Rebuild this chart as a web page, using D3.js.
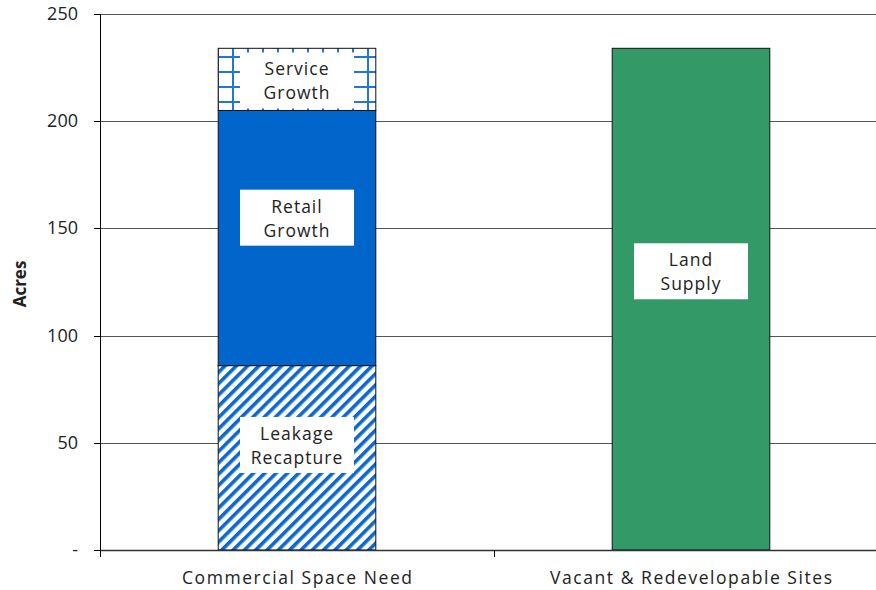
<!DOCTYPE html>
<html>
<head>
<meta charset="utf-8">
<script src="https://cdn.jsdelivr.net/npm/d3@7"></script>
<style>
  html, body { margin: 0; padding: 0; background: #fff; }
  svg { display: block; }
  text { font-family: "Century Gothic", "Open Sans", Lato, sans-serif; fill: #222; }
</style>
</head>
<body>
<svg id="chart" width="876" height="590"></svg>
<script>
// Acres of commercial land: projected need vs. available supply
const categories = ["Commercial Space Need", "Vacant & Redevelopable Sites"];
const segmentNames = ["Leakage Recapture", "Retail Growth", "Service Growth", "Land Supply"];
const segmentCategory = [0, 0, 0, 1];
const segmentValues = [86, 119, 29, 234];
const segmentLabels = [["Leakage", "Recapture"], ["Retail", "Growth"], ["Service", "Growth"], ["Land", "Supply"]];
// value (acres) at which each label box is centred
const labelAt = [49, 155, 219, 130];
const yTicks = [0, 50, 100, 150, 200, 250];
const yTickLabels = ["-", "50", "100", "150", "200", "250"];

const svg = d3.select("#chart");
const plot = { left: 100, right: 888, top: 14, bottom: 550 };

const x = d3.scaleBand().domain(categories).range([plot.left, plot.right])
  .paddingInner(0.6).paddingOuter(0.3);
const y = d3.scaleLinear().domain([0, 250]).range([plot.bottom, plot.top]);

// Fill patterns
const defs = svg.append("defs");
const stripes = defs.append("pattern").attr("id", "stripes")
  .attr("patternUnits", "userSpaceOnUse").attr("width", 8).attr("height", 8)
  .attr("patternTransform", "rotate(45)");
stripes.append("rect").attr("width", 8).attr("height", 8).attr("fill", "#fff");
stripes.append("rect").attr("width", 3.6).attr("height", 8).attr("fill", "#0a68cf");

const grid = defs.append("pattern").attr("id", "grid")
  .attr("patternUnits", "userSpaceOnUse").attr("width", 15).attr("height", 15)
  .attr("x", 1).attr("y", 5);
grid.append("rect").attr("width", 15).attr("height", 15).attr("fill", "#fff");
grid.append("rect").attr("x", 6).attr("width", 2).attr("height", 15).attr("fill", "#1f78d6");
grid.append("rect").attr("y", 6).attr("width", 15).attr("height", 2).attr("fill", "#1f78d6");

const fills = ["url(#stripes)", "#0066cc", "url(#grid)", "#339966"];

// Horizontal gridlines
svg.append("g").selectAll("line").data(yTicks.slice(1)).join("line")
  .attr("x1", plot.left).attr("x2", 876)
  .attr("y1", d => Math.round(y(d)) + 0.5).attr("y2", d => Math.round(y(d)) + 0.5)
  .attr("stroke", "#555").attr("stroke-width", 1);

// Stacked segments
const segs = segmentValues.map((v, i) => {
  const c = segmentCategory[i];
  const base = d3.sum(segmentValues.slice(0, i).filter((_, j) => segmentCategory[j] === c));
  return { i, c, y0: base, y1: base + v };
});

svg.append("g").selectAll("rect").data(segs).join("rect")
  .attr("x", d => x(categories[d.c]))
  .attr("width", x.bandwidth())
  .attr("y", d => y(d.y1))
  .attr("height", d => y(d.y0) - y(d.y1))
  .attr("fill", d => fills[d.i])
  .attr("stroke", "#111").attr("stroke-width", 1);

// Segment labels in white boxes
const lbl = svg.append("g").selectAll("g").data(segs).join("g")
  .attr("transform", d => `translate(${x(categories[d.c]) + x.bandwidth() / 2},${y(labelAt[d.i])})`);
lbl.append("rect").attr("x", -57).attr("y", -28).attr("width", 114).attr("height", 56).attr("fill", "#fff");
lbl.append("text").attr("text-anchor", "middle").attr("font-size", 17.5)
  .attr("letter-spacing", 1)
  .selectAll("tspan").data(d => segmentLabels[d.i]).join("tspan")
  .attr("x", 0).attr("y", (d, k) => k === 0 ? -5 : 19).text(d => d);

// Y axis
const yAxis = svg.append("g").attr("transform", `translate(${plot.left},0)`);
yAxis.append("line").attr("x1", 0.5).attr("x2", 0.5).attr("y1", plot.top).attr("y2", plot.bottom + 1).attr("stroke", "#000");
yAxis.selectAll(".tk").data(yTicks).join("line")
  .attr("x1", -6).attr("x2", 0)
  .attr("y1", d => Math.round(y(d)) + 0.5).attr("y2", d => Math.round(y(d)) + 0.5)
  .attr("stroke", "#000");
yAxis.selectAll("text").data(yTicks).join("text")
  .attr("x", -22).attr("y", d => y(d) + 6)
  .attr("text-anchor", "end").attr("font-size", 18)
  .text((d, i) => yTickLabels[i]);

// X axis
const xAxis = svg.append("g");
xAxis.append("line").attr("x1", plot.left).attr("x2", 876)
  .attr("y1", plot.bottom + 0.5).attr("y2", plot.bottom + 0.5).attr("stroke", "#333").attr("stroke-width", 1.5);
const bounds = [plot.left, plot.left + x.step()];
xAxis.selectAll(".xt").data(bounds).join("line")
  .attr("x1", d => d + 0.5).attr("x2", d => d + 0.5)
  .attr("y1", plot.bottom).attr("y2", plot.bottom + 7).attr("stroke", "#000");
const xLabelWidths = [230, 282];
xAxis.selectAll("text").data(categories).join("text")
  .attr("x", d => x(d) + x.bandwidth() / 2).attr("y", 584)
  .attr("text-anchor", "middle").attr("font-size", 17.5)
  .attr("textLength", (d, i) => xLabelWidths[i]).attr("lengthAdjust", "spacing")
  .text(d => d);

// Y axis title
svg.append("text")
  .attr("transform", `translate(26,${(plot.top + plot.bottom) / 2 + 2}) rotate(-90)`)
  .attr("text-anchor", "middle")
  .attr("font-family", "Arial, 'Liberation Sans', sans-serif")
  .attr("font-weight", "bold").attr("font-size", 17).attr("fill", "#000")
  .text("Acres");
</script>
</body>
</html>
